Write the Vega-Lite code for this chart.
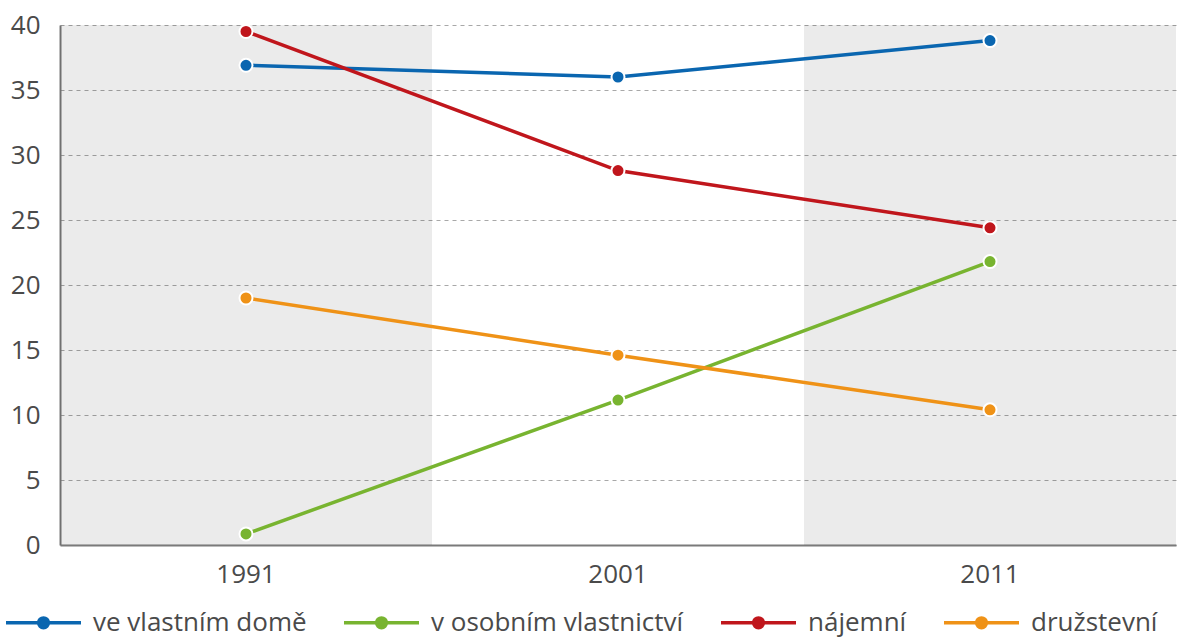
{
  "$schema": "https://vega.github.io/schema/vega-lite/v6.json",
  "width": 1116,
  "height": 520,
  "autosize": {"type": "none"},
  "padding": {"left": 60, "top": 25, "right": 18, "bottom": 95},
  "background": "white",
  "config": {
    "view": {"stroke": null},
    "font": "Open Sans",
    "axis": {"labelFont": "Open Sans", "labelColor": "#4a4a4a", "labelFontSize": 26, "ticks": false, "domainColor": "#7a7a7a", "domainWidth": 2, "title": null},
    "legend": {"labelFont": "Open Sans", "labelColor": "#4a4a4a", "labelFontSize": 26, "labelLimit": 0}
  },
  "datasets": {
    "bands": [{"year": "1991"}, {"year": "2011"}],
    "series": [
      {"year": "1991", "typ": "ve vlastním domě", "value": 36.9},
      {"year": "2001", "typ": "ve vlastním domě", "value": 36.0},
      {"year": "2011", "typ": "ve vlastním domě", "value": 38.8},
      {"year": "1991", "typ": "v osobním vlastnictví", "value": 0.85},
      {"year": "2001", "typ": "v osobním vlastnictví", "value": 11.15},
      {"year": "2011", "typ": "v osobním vlastnictví", "value": 21.8},
      {"year": "1991", "typ": "nájemní", "value": 39.5},
      {"year": "2001", "typ": "nájemní", "value": 28.8},
      {"year": "2011", "typ": "nájemní", "value": 24.4},
      {"year": "1991", "typ": "družstevní", "value": 19.0},
      {"year": "2001", "typ": "družstevní", "value": 14.6},
      {"year": "2011", "typ": "družstevní", "value": 10.4}
    ]
  },
  "layer": [
    {
      "data": {"name": "bands"},
      "mark": {"type": "bar", "color": "black", "opacity": 0.08},
      "encoding": {
        "x": {"field": "year", "type": "nominal", "title": null, "scale": {"type": "band", "domain": ["1991", "2001", "2011"], "paddingInner": 0, "paddingOuter": 0},
              "axis": {"labelAngle": 0, "labelPadding": 16, "grid": false, "domain": true}}
      }
    },
    {
      "data": {"name": "series"},
      "encoding": {
        "x": {"field": "year", "type": "nominal", "title": null, "scale": {"type": "band", "domain": ["1991", "2001", "2011"], "paddingInner": 0, "paddingOuter": 0},
              "axis": {"labelAngle": 0, "labelPadding": 16, "grid": false, "domain": true}},
        "y": {"field": "value", "type": "quantitative", "title": null, "scale": {"domain": [0, 40], "nice": false},
              "axis": {"values": [0, 5, 10, 15, 20, 25, 30, 35, 40], "labelPadding": 20, "grid": true, "gridDash": [4, 4], "gridColor": "#a8a8a8", "gridWidth": 1.2}},
        "color": {"field": "typ", "type": "nominal",
                  "scale": {"domain": ["ve vlastním domě", "v osobním vlastnictví", "nájemní", "družstevní"], "range": ["#0a66b0", "#78b430", "#c0161c", "#ef9217"]},
                  "legend": {"orient": "none", "legendX": -56, "legendY": 558, "direction": "horizontal", "title": null,
                             "symbolOffset": 0, "labelOffset": 10, "columnPadding": 30, "labelLimit": 0,
                             "encode": {"symbols": {"update": {
                               "shape": {"value": "M-1,0H-0.12M0.12,0H1M-0.13,0A0.13,0.13 0 1,1 0.13,0A0.13,0.13 0 1,1 -0.13,0Z"},
                               "size": {"value": 5625},
                               "strokeWidth": {"value": 3.5}
                             }}}}}
      },
      "layer": [
        {"mark": {"type": "line", "strokeWidth": 3.5}},
        {"mark": {"type": "point", "filled": true, "size": 170, "opacity": 1, "stroke": "white", "strokeWidth": 2}}
      ]
    }
  ]
}
